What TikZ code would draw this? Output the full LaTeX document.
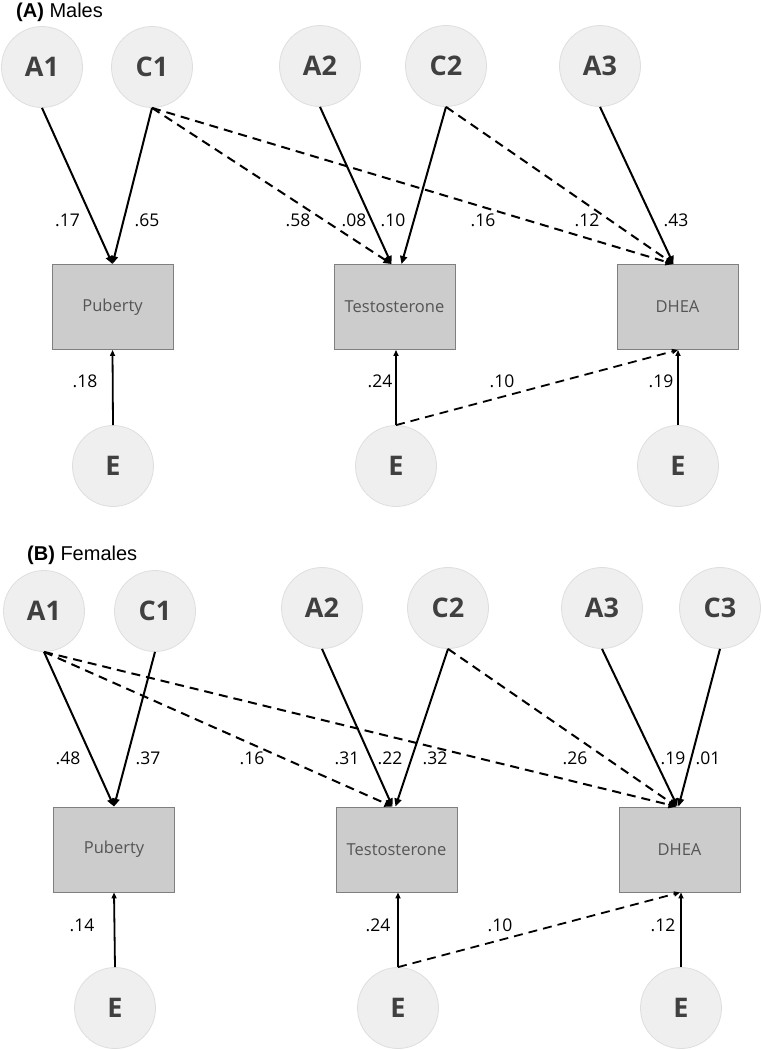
\documentclass[tikz,border=0pt]{standalone}
\usepackage{fontspec}
\setmainfont{Open Sans}
\newfontfamily\titlefont{Liberation Sans}
\usetikzlibrary{arrows.meta}
\definecolor{circfill}{HTML}{EFEFEF}
\definecolor{circdraw}{HTML}{DEDEDE}
\definecolor{boxfill}{HTML}{CCCCCC}
\definecolor{boxdraw}{HTML}{7F7F7F}
\definecolor{lettercol}{HTML}{404040}
\definecolor{boxtext}{HTML}{555555}
\begin{document}
\begin{tikzpicture}[x=1pt,y=-1pt,
  latent/.style={circle, minimum size=81pt, inner sep=0pt, fill=circfill, draw=circdraw, line width=0.8pt, text=lettercol, font=\fontsize{27}{30}\selectfont\bfseries},
  obs/.style={rectangle, minimum width=121pt, minimum height=85pt, inner sep=0pt, fill=boxfill, draw=boxdraw, line width=0.9pt, text=boxtext, font=\fontsize{16.5}{19}\selectfont},
  solidarr/.style={line width=2pt, -{Triangle[length=8pt,width=7pt]}},
  dasharr/.style={solidarr, dash pattern=on 9pt off 6pt},
  earr/.style={line width=1.8pt, -{Triangle[length=6pt,width=5pt]}},
  edash/.style={earr, dash pattern=on 9pt off 6pt},
  coef/.style={font=\fontsize{17.5}{20}\selectfont, inner sep=0pt, text=black},
  ttl/.style={font=\titlefont\fontsize{20}{23}\selectfont, anchor=west, inner sep=0pt}
]
\useasboundingbox (0,0) rectangle (761,1050);

% ---------- Panel A ----------
\node[ttl] (tA) at (16,12) {\textbf{(A)} Males};
\node[latent] (aA1) at (42,67) {A1};
\node[latent] (aC1) at (152,67) {C1};
\node[latent] (aA2) at (320,66) {A2};
\node[latent] (aC2) at (446,66) {C2};
\node[latent] (aA3) at (600,66) {A3};
\node[obs] (aP) at (112.5,307) {Puberty};
\node[obs] (aT) at (394.5,307) {Testosterone};
\node[obs] (aD) at (677.5,307) {DHEA};
\node[latent] (aE1) at (113,466) {E};
\node[latent] (aE2) at (396,466) {E};
\node[latent] (aE3) at (678,466) {E};

\draw[dasharr] (aC1.south) -- ([xshift=-3pt]aT.north);
\draw[dasharr] (aC1.south) -- ([xshift=-4pt]aD.north);
\draw[dasharr] (aC2.south) -- ([xshift=-4pt]aD.north);
\draw[solidarr] (aA1.south) -- (aP.north);
\draw[solidarr] (aC1.south) -- (aP.north);
\draw[solidarr] (aA2.south) -- ([xshift=-3pt]aT.north);
\draw[solidarr] (aC2.south) -- ([xshift=7pt]aT.north);
\draw[solidarr] (aA3.south) -- ([xshift=-4pt]aD.north);
\draw[earr] (aE1.north) -- (aP.south);
\draw[earr] (aE2.north) -- ([xshift=1.5pt]aT.south);
\draw[earr] (aE3.north) -- ([xshift=0.5pt]aD.south);
\draw[edash] (aE2.north) -- ([xshift=0.5pt]aD.south);

\node[coef] (la1) at (67.5,220) {.17};
\node[coef] (la2) at (147,220) {.65};
\node[coef] (la3) at (298,220) {.58};
\node[coef] (la4) at (354,220) {.08};
\node[coef] (la5) at (393,220) {.10};
\node[coef] (la6) at (483,220) {.16};
\node[coef] (la7) at (587,220) {.12};
\node[coef] (la8) at (676,220) {.43};
\node[coef] (la9) at (85,381) {.18};
\node[coef] (la10) at (380,381) {.24};
\node[coef] (la11) at (502,381) {.10};
\node[coef] (la12) at (661,381) {.19};

% ---------- Panel B ----------
\node[ttl] (tB) at (27,555) {\textbf{(B)} Females};
\node[latent] (bA1) at (44,611) {A1};
\node[latent] (bC1) at (155,611) {C1};
\node[latent] (bA2) at (322,608) {A2};
\node[latent] (bC2) at (448,608) {C2};
\node[latent] (bA3) at (602,608) {A3};
\node[latent] (bC3) at (720,608) {C3};
\node[obs] (bP) at (114,849.5) {Puberty};
\node[obs] (bT) at (396.5,849.5) {Testosterone};
\node[obs] (bD) at (679.5,849.5) {DHEA};
\node[latent] (bE1) at (115,1008) {E};
\node[latent] (bE2) at (398,1008) {E};
\node[latent] (bE3) at (681,1008) {E};

\draw[dasharr] (bA1.south) -- ([xshift=-4pt]bT.north);
\draw[dasharr] (bA1.south) -- ([xshift=-3pt]bD.north);
\draw[dasharr] (bC2.south) -- ([xshift=-3pt]bD.north);
\draw[solidarr] (bA1.south) -- (bP.north);
\draw[solidarr] (bC1.south) -- (bP.north);
\draw[solidarr] (bA2.south) -- ([xshift=-4pt]bT.north);
\draw[solidarr] (bC2.south) -- ([xshift=-1pt]bT.north);
\draw[solidarr] (bA3.south) -- ([xshift=-2pt]bD.north);
\draw[solidarr] (bC3.south) -- ([xshift=-1pt]bD.north);
\draw[earr] (bE1.north) -- (bP.south);
\draw[earr] (bE2.north) -- ([xshift=1.5pt]bT.south);
\draw[earr] (bE3.north) -- ([xshift=1.5pt]bD.south);
\draw[edash] (bE2.north) -- ([xshift=0.5pt]bD.south);

\node[coef] (lb1) at (68,758) {.48};
\node[coef] (lb2) at (148,758) {.37};
\node[coef] (lb3) at (252,758) {.16};
\node[coef] (lb4) at (347,758) {.31};
\node[coef] (lb5) at (390,758) {.22};
\node[coef] (lb6) at (435,758) {.32};
\node[coef] (lb7) at (575,758) {.26};
\node[coef] (lb8) at (673,758) {.19};
\node[coef] (lb9) at (708,758) {.01};
\node[coef] (lb10) at (82,925) {.14};
\node[coef] (lb11) at (378,925) {.24};
\node[coef] (lb12) at (500,925) {.10};
\node[coef] (lb13) at (663,925) {.12};
\end{tikzpicture}
\end{document}
